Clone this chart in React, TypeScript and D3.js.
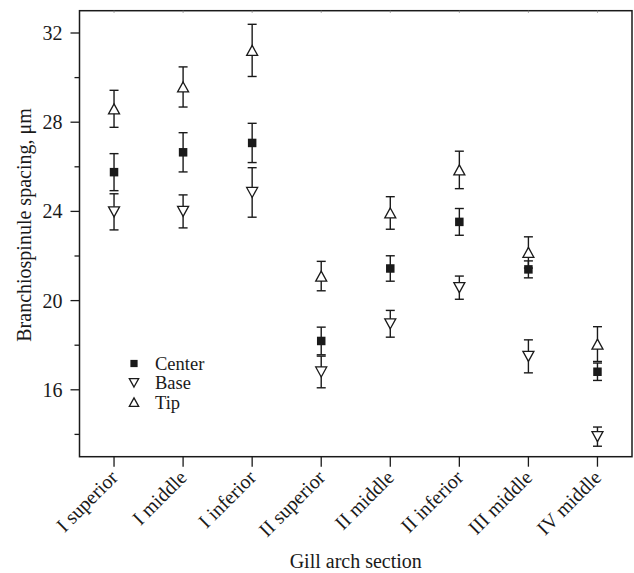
import React from "react";
import * as d3 from "d3";

const categories = [
  "I superior",
  "I middle",
  "I inferior",
  "II superior",
  "II middle",
  "II inferior",
  "III middle",
  "IV middle",
];

// mean values and error half-widths
const centerVals = [25.76, 26.65, 27.07, 18.19, 21.44, 23.53, 21.4, 16.81];
const centerErr = [0.83, 0.88, 0.88, 0.62, 0.57, 0.6, 0.38, 0.39];
const baseVals = [23.98, 24.0, 24.85, 16.8, 18.96, 20.58, 17.5, 13.9];
const baseErr = [0.81, 0.74, 1.11, 0.71, 0.6, 0.52, 0.74, 0.43];
const tipVals = [28.6, 29.58, 31.22, 21.1, 23.93, 25.86, 22.16, 18.05];
const tipErr = [0.83, 0.9, 1.17, 0.66, 0.73, 0.84, 0.7, 0.78];

const legendItems = [
  { kind: "center", label: "Center" },
  { kind: "base", label: "Base" },
  { kind: "tip", label: "Tip" },
];

const majorTicks = [16, 20, 24, 28, 32];
const minorTicks = [14, 18, 22, 26, 30];

const W = 634;
const H = 573;
const font = "'Liberation Serif', 'Times New Roman', serif";

function Marker({ kind, x, y, s = 1 }) {
  if (kind === "center") {
    const a = 8.5 * s;
    return <rect x={x - a / 2} y={y - a / 2} width={a} height={a} fill="#1a1a1a" />;
  }
  const w = 11 * s;
  const h = 10 * s;
  const pts =
    kind === "tip"
      ? [[x, y - h / 2], [x + w / 2, y + h / 2], [x - w / 2, y + h / 2]]
      : [[x, y + h / 2], [x + w / 2, y - h / 2], [x - w / 2, y - h / 2]];
  return (
    <polygon
      points={pts.map((p) => p.join(",")).join(" ")}
      fill="white"
      stroke="#1a1a1a"
      strokeWidth={1.3}
    />
  );
}

export default function App() {
  const left = 79.5;
  const right = 632;
  const top = 10.7;
  const bottom = 456.7;

  const x = d3.scalePoint().domain(categories).range([left, right]).padding(0.5);
  const y = d3.scaleLinear().domain([13, 33]).range([bottom, top]);

  const series = [
    { kind: "tip", vals: tipVals, err: tipErr },
    { kind: "base", vals: baseVals, err: baseErr },
    { kind: "center", vals: centerVals, err: centerErr },
  ];

  const cap = 4.5;

  return (
    <svg
      width={W}
      height={H}
      style={{ position: "absolute", left: 0, top: 0, background: "white", fontFamily: font }}
      fontFamily={font}
    >
      <rect x={0} y={0} width={W} height={H} fill="white" />

      {/* error bars */}
      {series.map((s) =>
        s.vals.map((v, i) => {
          const cx = x(categories[i]);
          const y1 = y(v + s.err[i]);
          const y0 = y(v - s.err[i]);
          return (
            <g key={s.kind + i} stroke="#1a1a1a" strokeWidth={1.4}>
              <line x1={cx} x2={cx} y1={y1} y2={y0} />
              <line x1={cx - cap} x2={cx + cap} y1={y1} y2={y1} />
              <line x1={cx - cap} x2={cx + cap} y1={y0} y2={y0} />
            </g>
          );
        })
      )}

      {/* markers */}
      {series.map((s) =>
        s.vals.map((v, i) => (
          <Marker key={"m" + s.kind + i} kind={s.kind} x={x(categories[i])} y={y(v)} />
        ))
      )}

      {/* frame */}
      <rect
        x={left}
        y={top}
        width={right - left}
        height={bottom - top}
        fill="none"
        stroke="#1a1a1a"
        strokeWidth={1.5}
      />

      {/* y axis */}
      {majorTicks.map((t) => (
        <g key={"yt" + t}>
          <line x1={left - 9} x2={left} y1={y(t)} y2={y(t)} stroke="#1a1a1a" strokeWidth={1.3} />
          <text x={left - 17} y={y(t)} dy="0.35em" textAnchor="end" fontSize={20} fill="#1a1a1a">
            {t}
          </text>
        </g>
      ))}
      {minorTicks.map((t) => (
        <line key={"ym" + t} x1={left - 5} x2={left} y1={y(t)} y2={y(t)} stroke="#1a1a1a" strokeWidth={1.3} />
      ))}

      {/* x axis */}
      {categories.map((c) => (
        <g key={"xt" + c}>
          <line x1={x(c)} x2={x(c)} y1={bottom} y2={bottom + 10} stroke="#1a1a1a" strokeWidth={1.3} />
          <line x1={x(c)} x2={x(c)} y1={top} y2={top + 2} stroke="#888" strokeWidth={1} />
          <text
            transform={`translate(${x(c) + 5},${bottom + 22}) rotate(-45)`}
            textAnchor="end"
            fontSize={20}
            fill="#1a1a1a"
          >
            {c}
          </text>
        </g>
      ))}

      {/* axis titles */}
      <text x={(left + right) / 2} y={568} textAnchor="middle" fontSize={20} fill="#1a1a1a">
        Gill arch section
      </text>
      <text
        transform={`translate(31,225) rotate(-90)`}
        textAnchor="middle"
        fontSize={20}
        fill="#1a1a1a"
      >
        Branchiospinule spacing, μm
      </text>

      {/* legend */}
      {legendItems.map((d, i) => (
        <g key={"lg" + d.kind}>
          <Marker kind={d.kind} x={134} y={363.5 + i * 19.3} s={0.85} />
          <text x={155} y={363.5 + i * 19.3} dy="0.35em" fontSize={18.5} fill="#1a1a1a">
            {d.label}
          </text>
        </g>
      ))}
    </svg>
  );
}
